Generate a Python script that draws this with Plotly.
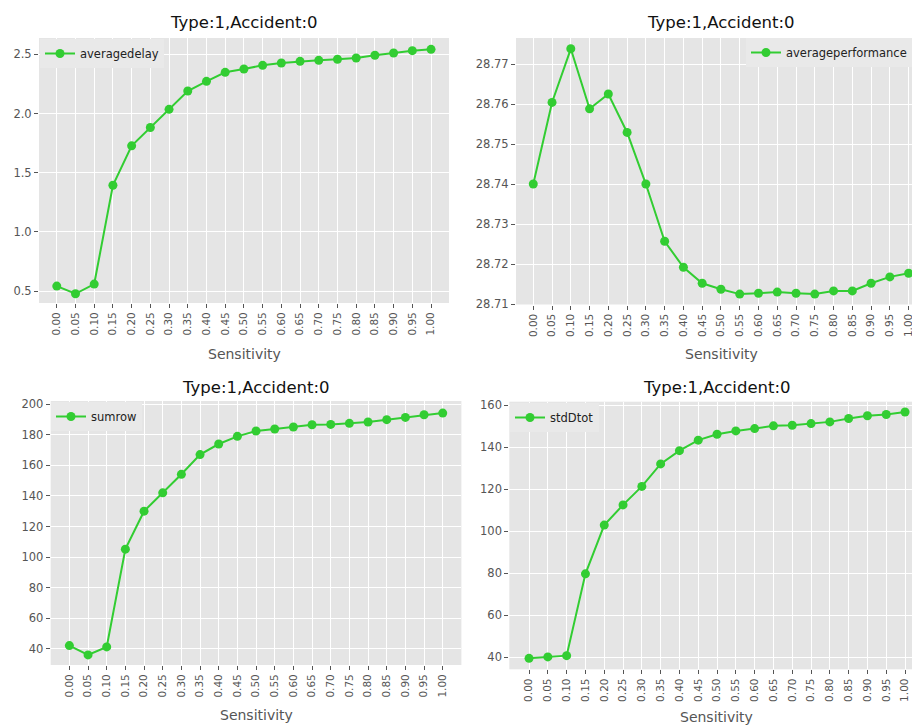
import plotly.graph_objects as go

sensitivity = ["0.00", "0.05", "0.10", "0.15", "0.20", "0.25", "0.30", "0.35", "0.40", "0.45",
               "0.50", "0.55", "0.60", "0.65", "0.70", "0.75", "0.80", "0.85", "0.90", "0.95", "1.00"]

averagedelay = [0.542, 0.477, 0.559, 1.394, 1.727, 1.882, 2.035, 2.190, 2.272, 2.348,
                2.376, 2.407, 2.427, 2.441, 2.449, 2.458, 2.469, 2.492, 2.511, 2.531, 2.542]

averageperformance = [28.7400, 28.7604, 28.7738, 28.7588, 28.7625, 28.7529, 28.7400, 28.7257,
                      28.7192, 28.7152, 28.7137, 28.7125, 28.7127, 28.7130, 28.7127, 28.7125,
                      28.7133, 28.7133, 28.7152, 28.7168, 28.7177]

sumrow = [42.2, 36.1, 41.3, 105.2, 130.0, 142.0, 154.1, 167.0, 173.9, 178.9,
          182.4, 183.7, 185.0, 186.5, 186.7, 187.4, 188.3, 189.8, 191.3, 193.0, 194.1]

stdDtot = [39.5, 40.2, 40.8, 79.7, 102.9, 112.5, 121.3, 132.0, 138.3, 143.3,
           146.1, 147.7, 148.8, 150.1, 150.4, 151.2, 152.0, 153.6, 154.9, 155.5, 156.7]

series_names = ["averagedelay", "averageperformance", "sumrow", "stdDtot"]
series_values = [averagedelay, averageperformance, sumrow, stdDtot]
title_text = "Type:1,Accident:0"
xlabel_text = "Sensitivity"

W, H = 912, 725
def fx(px):
    return px / W
def fy(py):
    return 1 - py / H

GREEN = "#32CD32"
FONT = "DejaVu Sans"
TICKC = "#555555"

# panel geometry (pixels)
panels = [
    dict(x=(39, 449), y=(38, 303), xr=[-0.95, 20.96], yr=[0.399, 2.638], dtick=0.5, fmt=".1f",
         leg=(40, 39), title_y=23, lab_y=354, cx=244),
    dict(x=(516, 912), y=(38, 304.5), xr=[-0.92, 20.18], yr=[28.7099, 28.7765], dtick=0.01, fmt=".2f",
         leg=(746, 38), title_y=23, lab_y=354, cx=721),
    dict(x=(50.7, 461.4), y=(401, 665), xr=[-1, 21], yr=[29.5, 202], dtick=20, fmt="d",
         leg=(51, 402), title_y=387, lab_y=715, cx=256),
    dict(x=(509.3, 912), y=(401.7, 669.3), xr=[-1.05, 20.37], yr=[34.3, 161.6], dtick=20, fmt="d",
         leg=(510, 403), title_y=387, lab_y=717, cx=716.5),
]

fig = go.Figure()
layout = dict(
    width=W, height=H,
    margin=dict(l=0, r=0, t=0, b=0, autoexpand=False),
    paper_bgcolor="white",
    plot_bgcolor="#E5E5E5",
    font=dict(family=FONT, color=TICKC, size=11.5),
    annotations=[],
    showlegend=True,
)

for i, (p, name, vals) in enumerate(zip(panels, series_names, series_values)):
    n = "" if i == 0 else str(i + 1)
    legname = "legend" + n
    fig.add_trace(go.Scatter(
        x=sensitivity, y=vals, name=name, mode="lines+markers",
        line=dict(color=GREEN, width=2),
        marker=dict(color=GREEN, size=9),
        xaxis="x" + n, yaxis="y" + n, legend=legname,
    ))
    layout["xaxis" + n] = dict(
        domain=[fx(p["x"][0]), fx(p["x"][1])], anchor="y" + n,
        type="category", categoryorder="array", categoryarray=sensitivity,
        range=p["xr"], showgrid=True, gridcolor="white", gridwidth=1,
        ticks="outside", ticklen=4, tickcolor=TICKC, tickangle=-90,
        tickfont=dict(family=FONT, size=10.5, color=TICKC),
        showline=False, zeroline=False,
    )
    layout["yaxis" + n] = dict(
        domain=[fy(p["y"][1]), fy(p["y"][0])], anchor="x" + n,
        range=p["yr"], dtick=p["dtick"], tick0=0, tickformat=p["fmt"],
        showgrid=True, gridcolor="white", gridwidth=1,
        ticks="outside", ticklen=4, tickcolor=TICKC,
        tickfont=dict(family=FONT, size=11.5, color=TICKC),
        showline=False, zeroline=False,
    )
    layout[legname] = dict(
        x=fx(p["leg"][0]), y=fy(p["leg"][1]), xanchor="left", yanchor="top",
        bgcolor="#E9E9E9", borderwidth=0,
        font=dict(family=FONT, size=11.5, color="#222222"),
        itemwidth=30,
    )
    layout["annotations"].append(dict(
        text=title_text, xref="paper", yref="paper",
        x=fx(p["cx"]), y=fy(p["title_y"]), xanchor="center", yanchor="middle",
        showarrow=False, font=dict(family=FONT, size=16.5, color="#111111"),
    ))
    layout["annotations"].append(dict(
        text=xlabel_text, xref="paper", yref="paper",
        x=fx(p["cx"]), y=fy(p["lab_y"]), xanchor="center", yanchor="middle",
        showarrow=False, font=dict(family=FONT, size=14, color=TICKC),
    ))

fig.update_layout(**layout)
fig.write_html("out.html")
